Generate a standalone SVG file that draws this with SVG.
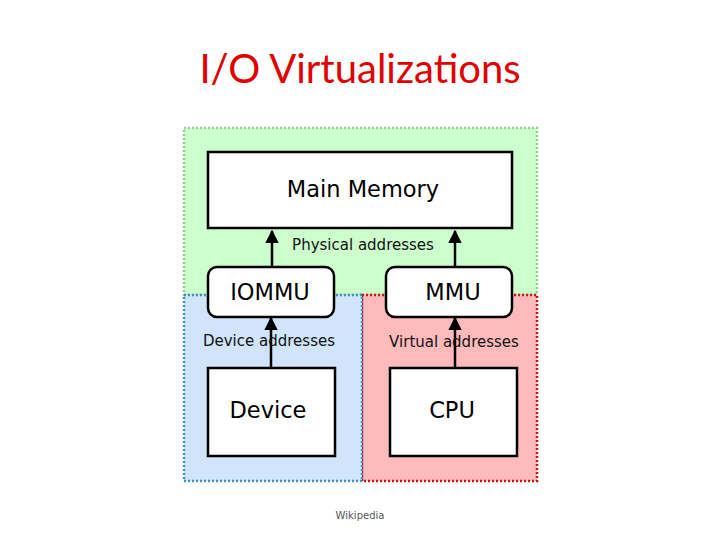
<svg xmlns="http://www.w3.org/2000/svg" width="720" height="540" viewBox="0 0 720 540">
<style>
.box{fill:#fff;stroke:#000;stroke-width:2.5}
.big{font-family:"DejaVu Sans",sans-serif;font-size:22.5px;fill:#000;text-anchor:middle}
.lbl{font-family:"DejaVu Sans",sans-serif;font-size:15px;fill:#111;text-anchor:middle}
.conn{stroke:#000;stroke-width:2.5;fill:none;marker-end:url(#ah)}
</style>
<defs>
<marker id="ah" viewBox="0 0 10 10" refX="9" refY="5" markerWidth="5.5" markerHeight="5.5" orient="auto" markerUnits="strokeWidth">
<path d="M0,0 L10,5 L0,10 Z" fill="#000"/>
</marker>
</defs>
<rect width="720" height="540" fill="#fff"/>
<text x="360" y="83" font-family="Lato, 'Liberation Sans', sans-serif" font-size="40" fill="#e00000" text-anchor="middle">I/O Virtualizations</text>
<g id="regions">
<rect x="184" y="128" width="353" height="167" fill="#ccffcc" stroke="#99cc99" stroke-width="2.5" stroke-dasharray="2,2"/>
<rect x="362" y="295" width="175" height="186" fill="#ffbbbb" stroke="#cc1111" stroke-width="2.5" stroke-dasharray="2,2"/>
<rect x="184" y="295" width="178" height="186" fill="#d0e4fa" stroke="#3b8fcc" stroke-width="2.5" stroke-dasharray="2,2"/>
</g>
<g id="mainmemory">
<rect class="box" x="208" y="152" width="304" height="76"/>
<text class="big" x="363" y="197">Main Memory</text>
</g>
<g id="iommu">
<rect class="box" x="208" y="267" width="126" height="50" rx="9"/>
<text class="big" x="270" y="300">IOMMU</text>
</g>
<g id="mmu">
<rect class="box" x="386" y="267" width="126" height="50" rx="9"/>
<text class="big" x="453" y="300">MMU</text>
</g>
<g id="device">
<rect class="box" x="208" y="368" width="127" height="88"/>
<text class="big" x="268" y="418">Device</text>
</g>
<g id="cpu">
<rect class="box" x="390" y="368" width="127" height="88"/>
<text class="big" x="452" y="418">CPU</text>
</g>
<g id="connectors">
<line class="conn" x1="272" y1="267" x2="272" y2="231"/>
<line class="conn" x1="455" y1="267" x2="455" y2="231"/>
<line class="conn" x1="271" y1="368" x2="271" y2="318"/>
<line class="conn" x1="455" y1="368" x2="455" y2="318"/>
</g>
<g id="labels">
<text class="lbl" x="363" y="250">Physical addresses</text>
<text class="lbl" x="269" y="346">Device addresses</text>
<text class="lbl" x="454" y="347">Virtual addresses</text>
</g>
<text x="360" y="519" font-family="'DejaVu Sans',sans-serif" font-size="10" fill="#555" text-anchor="middle">Wikipedia</text>
</svg>
